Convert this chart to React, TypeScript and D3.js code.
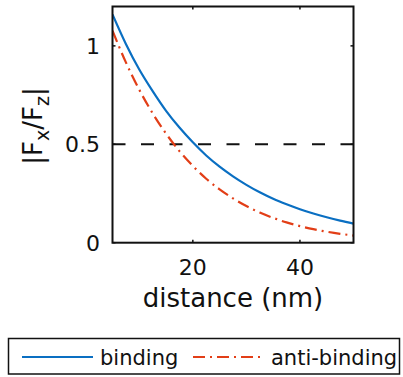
import React from "react";
import * as d3 from "d3";

const distances = [5, 7.5, 10, 12.5, 15, 17.5, 20, 22.5, 25, 27.5, 30, 32.5, 35, 37.5, 40, 42.5, 45, 47.5, 50];
const binding = [1.16, 1.01, 0.88, 0.77, 0.67, 0.585, 0.51, 0.443, 0.386, 0.337, 0.294, 0.256, 0.223, 0.195, 0.17, 0.148, 0.129, 0.112, 0.097];
const antiBinding = [1.077, 0.916, 0.777, 0.657, 0.554, 0.465, 0.39, 0.325, 0.271, 0.225, 0.186, 0.153, 0.126, 0.103, 0.0845, 0.0687, 0.0558, 0.0452, 0.0364];
const xTicks = [20, 40];
const yTicks = [0, 0.5, 1];
const yTickLabels = ["0", "0.5", "1"];
const threshold = 0.5;
const seriesNames = ["binding", "anti-binding"];

const W = 403;
const H = 377;
const FONT = "DejaVu Sans, sans-serif";

export default function App() {
  const x = d3.scaleLinear().domain([5, 50]).range([112.5, 353.5]);
  const y = d3.scaleLinear().domain([0, 1.2]).range([242.7, 6.5]);
  const [x0, x1] = x.range();
  const [yb, yt] = y.range();

  const line = d3
    .line<number>()
    .x((_, i) => x(distances[i]))
    .y((d) => y(d))
    .curve(d3.curveMonotoneX);

  const blue = "#0A6FC2";
  const red = "#E23E17";
  const tickLen = 3;

  return (
    <svg
      width={W}
      height={H}
      style={{ position: "absolute", left: 0, top: 0, background: "#fff" }}
      fontFamily={FONT}
    >
      <defs>
        <clipPath id="plotclip">
          <rect x={x0} y={yt} width={x1 - x0} height={yb - yt} />
        </clipPath>
      </defs>
      <rect width={W} height={H} fill="#fff" />

      {/* threshold dashed line */}
      <line
        x1={x0}
        x2={x1}
        y1={y(threshold)}
        y2={y(threshold)}
        stroke="#111"
        strokeWidth={2}
        strokeDasharray="13,15.5"
      />

      <g clipPath="url(#plotclip)">
        <path d={line(binding) || ""} fill="none" stroke={blue} strokeWidth={2.2} />
        <path
          d={line(antiBinding) || ""}
          fill="none"
          stroke={red}
          strokeWidth={2.2}
          strokeDasharray="12,5,2,5"
        />
      </g>

      {/* axes box */}
      <rect x={x0} y={yt} width={x1 - x0} height={yb - yt} fill="none" stroke="#111" strokeWidth={2} />

      {/* ticks */}
      {xTicks.map((t) => (
        <g key={"xt" + t}>
          <line x1={x(t)} x2={x(t)} y1={yb} y2={yb - tickLen} stroke="#111" strokeWidth={1.5} />
          <line x1={x(t)} x2={x(t)} y1={yt} y2={yt + tickLen} stroke="#111" strokeWidth={1.5} />
          <text x={x(t)} y={275} fontSize={22} textAnchor="middle" fill="#111">
            {String(t)}
          </text>
        </g>
      ))}
      {yTicks.map((t, i) => (
        <g key={"yt" + t}>
          <line x1={x0} x2={x0 + tickLen} y1={y(t)} y2={y(t)} stroke="#111" strokeWidth={1.5} />
          <line x1={x1} x2={x1 - tickLen} y1={y(t)} y2={y(t)} stroke="#111" strokeWidth={1.5} />
          <text x={100} y={y(t) + 8} fontSize={22} textAnchor="end" fill="#111">
            {yTickLabels[i]}
          </text>
        </g>
      ))}

      {/* axis labels */}
      <text x={(x0 + x1) / 2} y={307} fontSize={26} textAnchor="middle" fill="#111">
        distance (nm)
      </text>
      <text
        transform={`translate(42, 126) rotate(-90)`}
        fontSize={26}
        textAnchor="middle"
        fill="#111"
      >
        |F
        <tspan fontSize={19} dy={7}>x</tspan>
        <tspan dy={-7}>/F</tspan>
        <tspan fontSize={19} dy={7}>z</tspan>
        <tspan dy={-7}>|</tspan>
      </text>

      {/* legend */}
      <rect x={8.5} y={338.5} width={391} height={35.5} fill="#fff" stroke="#111" strokeWidth={1.5} />
      <line x1={22} x2={93} y1={357} y2={357} stroke={blue} strokeWidth={2.2} />
      <text x={100} y={365} fontSize={21} fill="#111">
        {seriesNames[0]}
      </text>
      <line x1={193} x2={264} y1={357} y2={357} stroke={red} strokeWidth={2.2} strokeDasharray="12,5,2,5" />
      <text x={271} y={365} fontSize={21} fill="#111">
        {seriesNames[1]}
      </text>
    </svg>
  );
}
